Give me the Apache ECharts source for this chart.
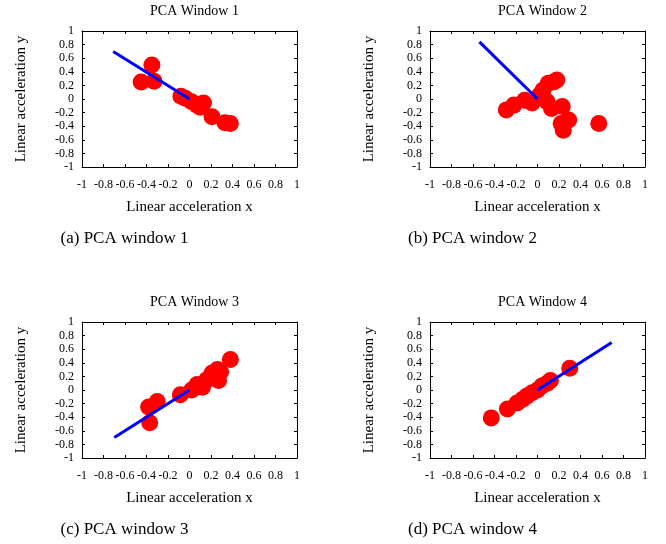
<!DOCTYPE html>
<html>
<head>
<meta charset="utf-8">
<script src="https://cdn.jsdelivr.net/npm/echarts@6/dist/echarts.min.js"></script>
<style>
  html, body { margin: 0; padding: 0; background: #fff; }
  #chart { width: 666px; height: 544px; }
</style>
</head>
<body>
<div id="chart"></div>
<script>
// readings
const panelTitles = ['PCA Window 1', 'PCA Window 2', 'PCA Window 3', 'PCA Window 4'];
const captions = ['(a) PCA window 1', '(b) PCA window 2', '(c) PCA window 3', '(d) PCA window 4'];

const window1Points = [
  [-0.35, 0.5], [-0.45, 0.25], [-0.33, 0.26], [-0.08, 0.04], [-0.04, 0.01],
  [0.02, -0.04], [0.07, -0.09], [0.13, -0.06], [0.10, -0.12], [0.21, -0.26],
  [0.33, -0.35], [0.38, -0.36]
];
const window2Points = [
  [-0.29, -0.16], [-0.22, -0.09], [-0.12, -0.02], [-0.05, -0.06], [0.02, 0.06],
  [0.05, 0.13], [0.10, 0.23], [0.15, 0.25], [0.18, 0.28], [0.09, -0.04],
  [0.13, -0.14], [0.23, -0.11], [0.29, -0.31], [0.22, -0.36], [0.24, -0.46],
  [0.57, -0.36]
];
const window3Points = [
  [-0.38, -0.25], [-0.30, -0.17], [-0.37, -0.48], [-0.085, -0.07], [0.02, 0.0],
  [0.07, 0.08], [0.12, 0.04], [0.16, 0.15], [0.21, 0.25], [0.26, 0.30],
  [0.29, 0.27], [0.27, 0.14], [0.38, 0.45]
];
const window4Points = [
  [-0.43, -0.41], [-0.28, -0.28], [-0.19, -0.19], [-0.14, -0.14], [-0.10, -0.09],
  [-0.05, -0.04], [0.0, 0.0], [0.04, 0.06], [0.09, 0.10], [0.12, 0.14],
  [0.30, 0.32]
];

// principal component vectors, from origin
const window1Axis = [[0, 0], [-0.71, 0.70]];
const window2Axis = [[0, 0], [-0.54, 0.84]];
const window3Axis = [[0, 0], [-0.70, -0.70]];
const window4Axis = [[0, 0], [0.69, 0.70]];

const allPoints = [window1Points, window2Points, window3Points, window4Points];
const allAxes = [window1Axis, window2Axis, window3Axis, window4Axis];

const font = 'Liberation Serif, Times New Roman, serif';
const lefts = [82, 430, 82, 430];
const tops = [31, 31, 322, 322];
const plotW = 215;
const plotH = 136;

const grid = [];
const xAxis = [];
const yAxis = [];
const series = [];
const title = [];

function baseAxis(gridIndex, position, showLabel) {
  return {
    type: 'value',
    gridIndex: gridIndex,
    position: position,
    min: -1,
    max: 1,
    interval: 0.2,
    splitLine: { show: false },
    axisLine: { show: true, onZero: false, lineStyle: { color: '#000', width: 1 } },
    axisTick: { show: true, inside: true, length: 3, lineStyle: { color: '#000' } },
    axisLabel: {
      show: showLabel,
      color: '#000',
      fontFamily: font,
      fontSize: 12,
      formatter: (v) => String(Math.round(v * 10) / 10)
    }
  };
}

for (let i = 0; i < 4; i++) {
  grid.push({ left: lefts[i], top: tops[i], width: plotW, height: plotH });

  const xb = baseAxis(i, 'bottom', true);
  xb.axisLabel.margin = 12;
  xb.name = 'Linear acceleration x';
  xb.nameLocation = 'middle';
  xb.nameGap = 33;
  xb.nameTextStyle = { color: '#000', fontFamily: font, fontSize: 15 };
  xAxis.push(xb);
  xAxis.push(baseAxis(i, 'top', false));

  const yl = baseAxis(i, 'left', true);
  yl.axisLabel.margin = 8;
  yl.name = 'Linear acceleration y';
  yl.nameLocation = 'middle';
  yl.nameGap = 53;
  yl.nameTextStyle = { color: '#000', fontFamily: font, fontSize: 15 };
  yAxis.push(yl);
  yAxis.push(baseAxis(i, 'right', false));

  series.push({
    type: 'scatter',
    xAxisIndex: i * 2,
    yAxisIndex: i * 2,
    data: allPoints[i],
    symbolSize: 17,
    itemStyle: { color: '#ff0000', opacity: 1 },
    z: 2
  });
  series.push({
    type: 'line',
    xAxisIndex: i * 2,
    yAxisIndex: i * 2,
    data: allAxes[i],
    showSymbol: false,
    symbol: 'none',
    lineStyle: { color: '#0000ff', width: 3 },
    z: 3
  });

  title.push({
    text: panelTitles[i],
    left: lefts[i] + plotW / 2,
    top: tops[i] - 32,
    textAlign: 'center',
    textStyle: { color: '#000', fontFamily: font, fontSize: 14, fontWeight: 'normal' }
  });
  title.push({
    text: captions[i],
    left: lefts[i] + plotW / 2 - 70,
    top: tops[i] + 194,
    textAlign: 'center',
    textStyle: { color: '#000', fontFamily: font, fontSize: 17, fontWeight: 'normal' }
  });
}

const chart = echarts.init(document.getElementById('chart'));
chart.setOption({
  animation: false,
  backgroundColor: '#fff',
  title: title,
  grid: grid,
  xAxis: xAxis,
  yAxis: yAxis,
  series: series
});
</script>
</body>
</html>
